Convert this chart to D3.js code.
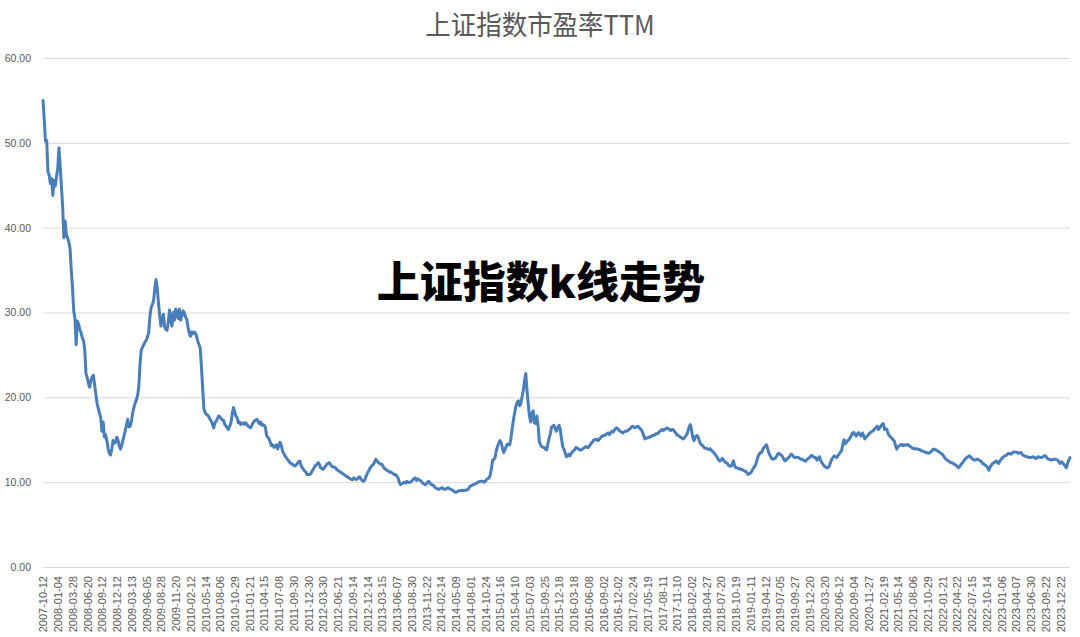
<!DOCTYPE html>
<html><head><meta charset="utf-8">
<script src="https://cdn.jsdelivr.net/npm/d3@7/dist/d3.min.js"></script>
<style>html,body{margin:0;padding:0;background:#fff;}svg{display:block;}</style>
</head><body><svg id="chart" width="1080" height="637"></svg>
<script>
const chartTitle = "上证指数市盈率TTM";
const watermark = "上证指数k线走势";
const yTicks = [0, 10, 20, 30, 40, 50, 60];
const tickLabels = ["2007-10-12","2008-01-04","2008-03-28","2008-06-20","2008-09-12","2008-12-12","2009-03-13","2009-06-05","2009-08-28","2009-11-20","2010-02-12","2010-05-14","2010-08-06","2010-10-29","2011-01-21","2011-04-15","2011-07-08","2011-09-30","2011-12-30","2012-03-30","2012-06-21","2012-09-14","2012-12-14","2013-03-15","2013-06-07","2013-08-30","2013-11-22","2014-02-14","2014-05-09","2014-08-01","2014-10-24","2015-01-16","2015-04-10","2015-07-03","2015-09-25","2015-12-18","2016-03-18","2016-06-08","2016-09-02","2016-12-02","2017-02-24","2017-05-19","2017-08-11","2017-11-10","2018-02-02","2018-04-27","2018-07-20","2018-10-19","2019-01-11","2019-04-12","2019-07-05","2019-09-27","2019-12-20","2020-03-20","2020-06-12","2020-09-04","2020-11-27","2021-02-19","2021-05-14","2021-08-06","2021-10-29","2022-01-21","2022-04-22","2022-07-15","2022-10-14","2023-01-06","2023-04-07","2023-06-30","2023-09-22","2023-12-22"];
const labelEvery = 12;
// weekly PE TTM values (one per trading week)
const peValues = [
55.0,52.8,50.2,50.3,46.6,46.2,45.2,45.8,43.8,45.6,44.9,46.0,
47.0,49.4,47.2,44.8,42.5,38.8,40.8,39.2,38.8,38.3,37.6,35.0,
33.0,30.2,29.3,26.2,29.0,28.6,28.0,27.6,27.0,26.7,25.6,22.8,
22.3,21.6,21.2,22.0,22.4,22.6,21.5,20.4,19.3,18.7,18.1,17.6,
16.0,17.1,15.3,15.6,14.9,14.0,13.4,13.2,13.9,14.9,14.6,14.7,
15.3,15.0,14.3,13.9,14.3,14.9,15.5,16.1,16.8,17.4,16.5,16.6,
17.2,18.2,18.8,19.3,19.7,20.2,21.3,24.0,25.6,25.9,26.2,26.5,
26.7,27.1,27.6,29.5,30.6,30.9,31.4,32.8,33.9,32.9,31.1,29.6,
28.4,29.3,29.8,28.3,28.0,27.9,28.9,30.3,29.0,28.4,30.0,29.1,
30.4,29.8,29.3,30.4,29.1,29.6,30.2,30.0,29.5,29.2,28.3,27.6,
27.2,27.7,27.5,27.7,27.6,27.2,26.6,26.2,25.8,23.5,21.0,18.6,
18.2,18.0,17.9,17.7,17.4,17.2,16.8,16.4,17.0,17.2,17.5,17.8,
17.7,17.5,17.3,17.3,16.8,16.6,16.4,16.2,16.6,17.0,18.0,18.8,
18.3,17.8,17.6,17.0,17.1,16.8,16.9,17.0,16.8,17.0,16.8,16.6,
16.5,16.4,16.7,17.0,17.2,17.3,17.4,17.2,16.9,17.1,16.7,16.8,
16.7,16.5,15.5,15.3,15.1,14.7,14.3,14.4,14.1,14.2,14.4,13.9,
14.3,14.7,14.3,13.7,13.4,13.1,12.9,12.7,12.5,12.3,12.2,12.1,
12.0,11.9,12.0,12.2,12.4,12.5,12.0,11.7,11.5,11.3,11.2,10.9,
10.9,10.9,11.0,11.3,11.5,11.8,12.0,12.1,12.3,12.1,11.7,11.6,
11.5,11.7,11.9,12.1,12.2,12.3,12.1,11.9,11.8,11.8,11.7,11.5,
11.4,11.3,11.2,11.1,11.0,10.9,10.8,10.7,10.6,10.5,10.4,10.3,
10.3,10.5,10.4,10.3,10.4,10.6,10.6,10.3,10.2,10.1,10.3,10.7,
11.0,11.3,11.6,11.8,12.0,12.1,12.4,12.7,12.5,12.3,12.2,12.1,
12.1,11.8,11.6,11.5,11.4,11.3,11.2,11.2,11.1,11.0,10.9,10.9,
10.7,10.5,10.0,9.7,9.8,9.9,10.0,9.9,10.1,10.0,10.0,10.0,
10.1,10.3,10.4,10.5,10.2,10.4,10.3,10.2,10.1,9.9,9.8,9.7,
9.8,10.0,10.1,9.9,9.7,9.7,9.6,9.4,9.3,9.2,9.15,9.2,
9.3,9.35,9.2,9.15,9.2,9.3,9.35,9.2,9.15,9.1,9.0,8.85,
8.8,8.85,8.95,9.0,9.0,9.05,9.0,9.05,9.05,9.1,9.15,9.4,
9.55,9.6,9.7,9.75,9.8,9.9,10.0,10.05,10.1,10.1,10.1,10.0,
10.1,10.3,10.4,10.5,10.8,11.6,12.6,12.7,12.9,13.7,14.2,14.6,
14.9,14.7,14.0,13.5,13.8,14.2,14.5,14.4,14.4,15.3,16.4,17.4,
18.2,19.0,19.4,19.6,19.0,19.3,20.1,20.8,22.0,22.8,20.8,19.2,
17.8,17.1,18.1,18.4,17.0,16.9,17.8,16.7,14.8,14.4,14.2,14.1,
14.1,13.9,13.8,14.5,15.2,15.7,16.5,16.6,16.7,16.3,16.0,16.4,
16.7,16.3,15.2,14.2,13.9,13.5,13.0,13.1,13.3,13.1,13.4,13.6,
13.7,13.9,14.1,14.0,13.9,13.8,13.8,13.9,14.0,14.1,14.2,14.1,
14.1,14.3,14.5,14.7,14.9,15.0,15.05,15.0,14.9,15.1,15.25,15.4,
15.5,15.5,15.6,15.7,15.8,15.6,15.8,16.0,15.9,16.1,16.3,16.4,
16.3,16.1,16.0,15.9,15.8,15.9,16.0,16.0,16.1,16.2,16.3,16.5,
16.6,16.5,16.4,16.5,16.6,16.5,16.3,16.2,15.9,15.5,15.1,15.2,
15.2,15.3,15.3,15.4,15.5,15.5,15.6,15.7,15.7,15.8,16.0,16.1,
16.2,16.1,16.2,16.3,16.4,16.3,16.2,16.1,16.2,16.2,16.0,15.8,
15.6,15.5,15.4,15.3,15.2,15.1,15.2,15.4,15.6,16.0,16.5,16.8,
16.1,15.2,14.9,15.3,15.5,15.4,15.0,14.6,14.4,14.3,14.1,14.0,
14.0,13.9,13.85,13.95,13.8,13.6,13.5,13.3,13.1,12.9,12.6,12.5,
12.6,12.8,12.6,12.4,12.3,12.2,12.0,11.9,11.9,12.1,12.5,11.9,
11.7,11.7,11.6,11.6,11.5,11.5,11.4,11.3,11.3,11.1,10.9,11.0,
11.1,11.3,11.6,11.8,12.0,12.5,13.0,13.3,13.5,13.5,13.9,14.1,
14.3,14.4,13.9,13.4,13.1,12.8,12.7,12.8,12.8,13.0,13.3,13.4,
13.3,13.2,13.0,12.7,12.5,12.6,12.8,12.9,13.1,13.3,13.2,13.0,
12.9,12.9,12.95,12.9,12.8,12.7,12.7,12.6,12.5,12.5,12.7,12.8,
12.9,13.1,13.15,13.0,12.9,12.9,12.6,12.7,13.0,12.6,12.3,12.1,
11.9,11.8,11.7,11.7,11.9,12.3,12.7,12.9,13.1,13.0,12.9,13.1,
13.3,13.5,13.7,14.4,15.0,14.5,14.7,14.9,15.0,15.25,15.5,15.8,
15.85,15.6,15.45,15.7,15.85,15.6,15.45,15.8,15.5,15.1,15.3,15.45,
15.6,15.8,15.9,16.0,16.1,16.3,16.4,16.6,16.2,16.4,16.6,16.8,
16.9,16.2,16.3,16.2,15.7,15.5,15.3,15.2,15.0,14.85,14.3,13.9,
14.2,14.3,14.4,14.45,14.3,14.4,14.35,14.4,14.45,14.3,14.2,14.1,
14.0,13.95,13.9,13.95,13.9,13.85,13.8,13.7,13.65,13.6,13.55,13.5,
13.45,13.4,13.5,13.6,13.8,13.9,13.85,13.8,13.7,13.6,13.5,13.4,
13.3,13.1,12.9,12.7,12.6,12.5,12.4,12.3,12.3,12.2,12.1,12.0,
11.9,11.7,11.8,12.0,12.2,12.4,12.6,12.8,12.9,13.0,13.1,13.0,
12.8,12.7,12.6,12.6,12.7,12.7,12.6,12.5,12.4,12.2,12.1,12.0,
11.9,11.7,11.4,11.8,12.0,12.2,12.3,12.4,12.5,12.3,12.2,12.5,
12.7,12.9,13.0,13.1,13.15,13.3,13.4,13.35,13.3,13.45,13.55,13.55,
13.55,13.5,13.4,13.45,13.5,13.3,13.15,13.1,13.05,13.0,12.95,12.9,
12.9,12.95,13.0,12.9,12.8,12.85,13.0,12.95,12.9,12.9,13.0,13.1,
13.1,12.9,12.75,12.7,12.65,12.6,12.65,12.7,12.7,12.65,12.6,12.4,
12.2,12.4,12.3,12.1,11.9,11.7,12.2,12.6,12.9
];

const W = 1080, H = 637;
const plot = {left: 43, right: 1070, top: 58, bottom: 567};
const svg = d3.select("#chart");
const grey = "#595959";

const x = d3.scalePoint().domain(d3.range(peValues.length)).range([plot.left, plot.right]);
const y = d3.scaleLinear().domain([0, 60]).range([plot.bottom, plot.top]);

// gridlines + y labels
const yAxis = d3.axisLeft(y).tickValues(yTicks).tickSize(-(plot.right - plot.left)).tickPadding(12)
  .tickFormat(d3.format(".2f"));
const gy = svg.append("g").attr("transform", `translate(${plot.left},0)`).call(yAxis);
gy.select(".domain").remove();
gy.selectAll(".tick line").attr("stroke", "#d9d9d9").attr("stroke-width", 1);
gy.selectAll(".tick text").attr("fill", grey).style("font-family", "'Liberation Sans', Arial, sans-serif").style("font-size", "10.5px");

// x axis labels
const labelIdx = d3.range(0, peValues.length, labelEvery).filter(i => i / labelEvery < tickLabels.length);
const xAxis = d3.axisBottom(x).tickValues(labelIdx).tickSize(0).tickFormat(i => tickLabels[i / labelEvery]);
const gx = svg.append("g").attr("transform", `translate(0,${plot.bottom})`).call(xAxis);
gx.select(".domain").remove();
gx.selectAll(".tick text")
  .attr("fill", grey)
  .style("font-family", "'Liberation Sans', Arial, sans-serif").style("font-size", "11px")
  .attr("text-anchor", "end")
  .attr("transform", "rotate(-90)")
  .attr("x", -9).attr("y", 0).attr("dy", "0.35em");

// line
const line = d3.line().x((d, i) => x(i)).y(d => y(d));
svg.append("path").datum(peValues)
  .attr("fill", "none").attr("stroke", "#4a7ebb").attr("stroke-width", 3)
  .attr("stroke-linejoin", "round").attr("stroke-linecap", "round")
  .attr("d", line);

// title (slightly condensed look: taller glyphs)
svg.append("text").attr("text-anchor", "middle")
  .attr("transform", "translate(540,35) scale(1.02,1.1)")
  .attr("fill", grey).style("font-family", "'Noto Sans CJK SC', sans-serif").style("font-size", "25px")
  .text(chartTitle);

// watermark
svg.append("text").attr("x", 541).attr("y", 298).attr("text-anchor", "middle")
  .attr("fill", "#000").style("font-family", "'Noto Sans CJK SC', sans-serif").style("font-weight", "900").style("font-size", "43px")
  .text(watermark);
</script></body></html>
